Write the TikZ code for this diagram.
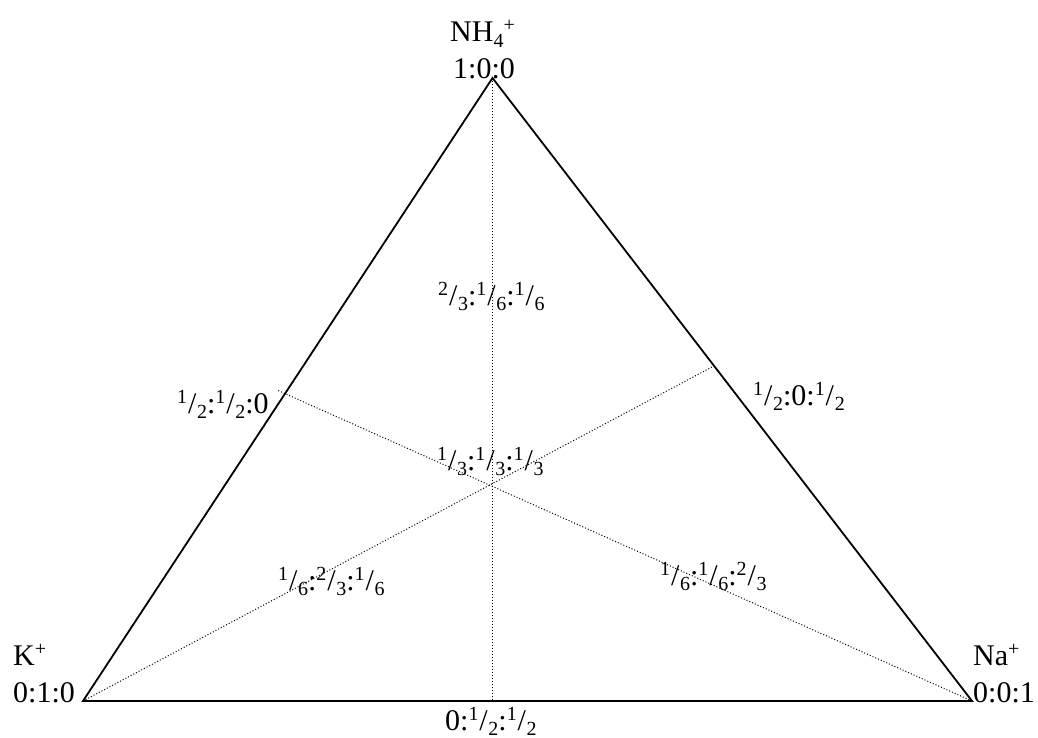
\documentclass[tikz,border=0pt]{standalone}
\usepackage{fontspec}
\setmainfont{Liberation Serif}
\usetikzlibrary{positioning}
\newcommand{\up}[1]{\raisebox{10pt}{\fontsize{20}{20}\selectfont #1}}
\newcommand{\dn}[1]{\raisebox{-5.5pt}{\fontsize{20}{20}\selectfont #1}}
\newcommand{\fr}[2]{\up{#1}\kern0.8pt/\kern0.8pt\dn{#2}}

\begin{document}
\begin{tikzpicture}[x=1pt, y=-1pt, font=\fontsize{30}{36}\selectfont,
  side/.style={line width=1.8pt, line join=miter},
  median/.style={line width=1pt, dotted},
  lab/.style={inner sep=0pt, anchor=base west}]
  \useasboundingbox (0,0) rectangle (1038,738);
  % corners of the triangle
  \coordinate (nh) at (492.5,78);
  \coordinate (k) at (83,701);
  \coordinate (na) at (972,701);
  % where the medians end
  \coordinate (kna) at (492.5,701);
  \coordinate (nhk) at (277,390);
  \coordinate (nhna) at (712,367);
  \draw[median] (nh) -- (kna);
  \draw[median] (k) -- (nhna);
  \draw[median] (na) -- (nhk);
  \draw[side] (nh) -- (k) -- (na) -- cycle;
  % corner labels
  \node[lab] (nhion) at (450,42) {NH\dn{4}\up{+}};
  \node[lab] (nhval) at (453,79) {1:0:0};
  \node[lab] (kion) at (13,665) {K\up{+}};
  \node[lab] (kval) at (13,702) {0:1:0};
  \node[lab] (naion) at (973,665) {Na\up{+}};
  \node[lab] (naval) at (973,702) {0:0:1};
  % side and inner labels
  \node[lab] (knaval) at (445,730) {0:\fr{1}{2}:\fr{1}{2}};
  \node[lab] (nhkval) at (177,413) {\fr{1}{2}:\fr{1}{2}:0};
  \node[lab] (nhnaval) at (753,405) {\fr{1}{2}:0:\fr{1}{2}};
  \node[lab] (upval) at (438,305) {\fr{2}{3}:\fr{1}{6}:\fr{1}{6}};
  \node[lab] (midval) at (437,470) {\fr{1}{3}:\fr{1}{3}:\fr{1}{3}};
  \node[lab] (kinval) at (278,590) {\fr{1}{6}:\fr{2}{3}:\fr{1}{6}};
  \node[lab] (nainval) at (660,585) {\fr{1}{6}:\fr{1}{6}:\fr{2}{3}};
\end{tikzpicture}
\end{document}
